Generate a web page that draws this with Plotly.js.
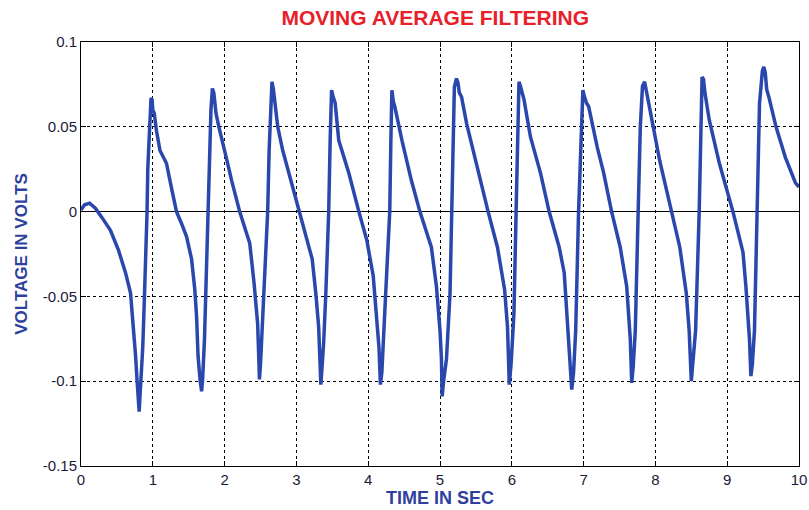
<!DOCTYPE html>
<html>
<head>
<meta charset="utf-8">
<script src="https://cdn.plot.ly/plotly-3.0.1.min.js"></script>
<style>html,body{margin:0;padding:0;background:#fff;}#chart{width:809px;height:510px;}</style>
</head>
<body>
<div id="chart"></div>
<script>
var timeSec = [
0,0.05,0.12,0.2,0.3,0.41,0.52,0.62,0.69,0.73,0.76,0.78,0.80,0.81,0.82,
0.84,0.86,0.88,0.90,0.92,0.93,0.95,0.96,0.975,0.99,1.0,1.02,1.05,1.10,1.19,1.26,1.33,1.40,1.47,1.54,1.585,1.61,1.63,1.66,1.68,1.695,
1.72,1.74,1.77,1.79,1.81,1.83,1.85,1.86,1.88,1.92,1.97,2.02,2.10,2.21,2.30,2.35,2.41,2.44,2.46,2.475,2.485,2.50,
2.53,2.57,2.60,2.62,2.64,2.66,2.68,2.70,2.74,2.81,2.90,2.97,3.04,3.12,3.22,3.27,3.31,3.33,3.34,3.36,
3.38,3.41,3.45,3.47,3.49,3.51,3.54,3.59,3.66,3.73,3.87,3.98,4.07,4.12,4.15,4.17,4.19,
4.23,4.26,4.30,4.315,4.33,4.35,4.37,4.47,4.60,4.72,4.88,4.95,5.00,5.02,5.03,5.05,
5.09,5.14,5.16,5.18,5.20,5.23,5.25,5.27,5.30,5.37,5.45,5.53,5.67,5.80,5.90,5.94,5.96,5.965,5.99,
6.03,6.06,6.08,6.10,6.12,6.14,6.17,6.26,6.40,6.52,6.66,6.73,6.77,6.80,6.835,6.86,
6.89,6.93,6.96,6.99,7.01,7.04,7.07,7.19,7.28,7.39,7.51,7.60,7.65,7.67,7.69,
7.72,7.76,7.79,7.82,7.85,7.87,7.90,7.97,8.06,8.22,8.34,8.43,8.47,8.50,8.52,
8.56,8.61,8.63,8.65,8.67,8.69,8.75,8.89,9.08,9.22,9.26,9.31,9.33,9.35,
9.38,9.42,9.45,9.49,9.51,9.53,9.55,9.58,9.68,9.81,9.95,10
];
var voltage = [
0.001,0.004,0.005,0.002,-0.004,-0.011,-0.0225,-0.036,-0.048,-0.066,-0.085,-0.099,-0.112,-0.118,-0.110,
-0.095,-0.08,-0.055,-0.03,0,0.025,0.05,0.062,0.067,0.066,0.060,0.058,0.048,0.036,0.0285,0.014,0,-0.007,-0.0147,-0.028,-0.046,-0.062,-0.085,-0.100,-0.106,-0.098,
-0.075,-0.045,0,0.036,0.06,0.0726,0.070,0.066,0.058,0.050,0.040,0.0324,0.018,0,-0.012,-0.0186,-0.042,-0.055,-0.066,-0.085,-0.099,-0.09,
-0.06,-0.03,0,0.036,0.065,0.0765,0.072,0.064,0.05,0.036,0.022,0.010,0,-0.012,-0.028,-0.048,-0.068,-0.090,-0.102,-0.09,
-0.077,-0.048,0,0.042,0.0716,0.068,0.064,0.042,0.032,0.0227,0,-0.0167,-0.038,-0.062,-0.08,-0.102,-0.095,
-0.06,-0.03,0,0.04,0.0716,0.065,0.062,0.042,0.0186,0,-0.021,-0.044,-0.07,-0.087,-0.109,-0.100,
-0.087,-0.048,0,0.04,0.0735,0.0785,0.076,0.070,0.0676,0.052,0.038,0.0245,0,-0.021,-0.046,-0.068,-0.09,-0.102,-0.09,
-0.06,0,0.04,0.0765,0.074,0.070,0.066,0.044,0.0227,0,-0.021,-0.036,-0.060,-0.08,-0.105,-0.095,
-0.07,0,0.032,0.0716,0.068,0.064,0.062,0.038,0.0227,0,-0.021,-0.044,-0.075,-0.101,-0.092,
-0.07,0,0.05,0.074,0.0765,0.072,0.066,0.05,0.030,0,-0.021,-0.048,-0.07,-0.100,-0.09,
-0.07,0,0.05,0.0794,0.078,0.070,0.054,0.0286,0,-0.024,-0.044,-0.075,-0.097,-0.09,
-0.07,0,0.0637,0.083,0.0853,0.082,0.072,0.0676,0.05,0.032,0.0169,0.0145
];
var xTicks = [0,1,2,3,4,5,6,7,8,9,10];
var xTickLabels = ['0','1','2','3','4','5','6','7','8','9','10'];
var yTicks = [-0.15,-0.1,-0.05,0,0.05,0.1];
var yTickLabels = ['-0.15','-0.1','-0.05','0','0.05','0.1'];

var trace = {
  x: timeSec, y: voltage, type: 'scatter', mode: 'lines',
  line: {color: '#2a47ad', width: 3.5}, hoverinfo: 'skip'
};
var axisFont = {family: 'Liberation Sans, Arial, sans-serif', size: 15, color: '#1a1a3a'};
var layout = {
  width: 809, height: 510,
  margin: {l: 81, r: 10, t: 42, b: 44},
  paper_bgcolor: '#fff', plot_bgcolor: '#fff',
  showlegend: false,
  title: {text: '<b>MOVING AVERAGE FILTERING</b>', x: 0.538, xanchor: 'center', y: 0.965, yanchor: 'middle',
          font: {family: 'Liberation Sans, Arial, sans-serif', size: 21, color: '#e8202a'}},
  xaxis: {
    range: [0, 10], tickvals: xTicks, ticktext: xTickLabels,
    showgrid: true, gridcolor: '#000', gridwidth: 1, griddash: '3px,3px',
    zeroline: false, showline: true, linecolor: '#000', linewidth: 1, mirror: 'ticks',
    ticks: 'inside', ticklen: 5, tickcolor: '#000', tickfont: axisFont,
    ticklabeloverflow: 'allow',
    title: {text: '<b>TIME IN SEC</b>', standoff: 4, font: {family: 'Liberation Sans, Arial, sans-serif', size: 18, color: '#2e3f9e'}}
  },
  yaxis: {
    range: [-0.15, 0.1], tickvals: yTicks, ticktext: yTickLabels,
    showgrid: true, gridcolor: '#000', gridwidth: 1, griddash: '3px,3px',
    zeroline: true, zerolinecolor: '#000', zerolinewidth: 1.2,
    showline: true, linecolor: '#000', linewidth: 1, mirror: 'ticks',
    ticks: 'inside', ticklen: 5, tickcolor: '#000', tickfont: axisFont,
    title: {text: '<b>VOLTAGE IN VOLTS</b>', standoff: 10, font: {family: 'Liberation Sans, Arial, sans-serif', size: 17, color: '#2e3f9e'}}
  }
};
Plotly.newPlot('chart', [trace], layout, {staticPlot: true, displayModeBar: false});
</script>
</body>
</html>
